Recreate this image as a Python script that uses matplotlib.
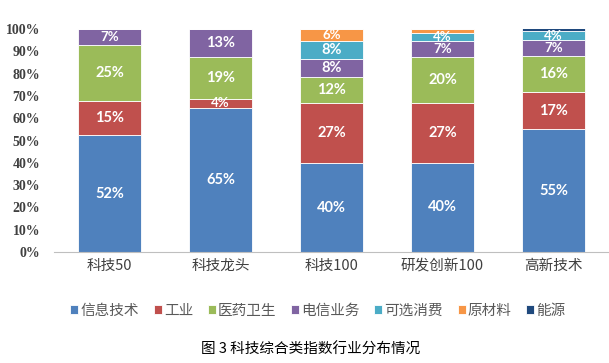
import matplotlib
matplotlib.use("Agg")
import matplotlib.pyplot as plt
import numpy as np

plt.rcParams['font.family'] = ['Noto Sans CJK SC', 'DejaVu Sans']

categories = ['科技50', '科技龙头', '科技100', '研发创新100', '高新技术']
series_names = ['信息技术', '工业', '医药卫生', '电信业务', '可选消费', '原材料', '能源']
info_tech = [52.4, 64.6, 39.9, 40.0, 55.0]
industry = [15.2, 4.0, 26.9, 27.0, 16.8]
health = [25.1, 18.8, 11.7, 20.4, 16.2]
telecom = [7.3, 12.6, 8.0, 7.0, 7.0]
consumer = [0.0, 0.0, 8.0, 4.0, 4.0]
materials = [0.0, 0.0, 5.5, 1.6, 0.0]
energy = [0.0, 0.0, 0.0, 0.0, 1.3]
yticks = [0, 10, 20, 30, 40, 50, 60, 70, 80, 90, 100]
title = '图 3 科技综合类指数行业分布情况'

colors = ['#4F81BD', '#C0504D', '#9BBB59', '#8064A2', '#4BACC6', '#F79646', '#1F497D']
series = [info_tech, industry, health, telecom, consumer, materials, energy]

fig = plt.figure(figsize=(6.09, 3.63), dpi=100)
ax = fig.add_axes([54/609, 1-252/363, 555/609, 223/363])
x = np.arange(len(categories))
bottom = np.zeros(len(categories))
handles = []
for name, vals, c in zip(series_names, series, colors):
    v = np.array(vals)
    b = ax.bar(x, v, 0.57, bottom=bottom, color=c, edgecolor='white', linewidth=0.6, label=name)
    handles.append(b)
    for xi, vi, bi in zip(x, v, bottom):
        if vi >= 3:
            fs = 10.5 if vi >= 7.5 else 9.5
            ax.text(xi, bi + vi/2, f'{round(vi):.0f}%', ha='center', va='center',
                    color='white', fontsize=fs, fontweight='bold', family=['Lato', 'DejaVu Sans'])
    bottom = bottom + v

ax.set_xlim(-0.5, len(categories) - 0.5)
ax.set_ylim(0, 100)
ax.set_yticks(yticks)
ax.set_yticklabels([f'{t}%' for t in yticks], family=['Liberation Serif'], fontweight='bold',
                   fontsize=10, color='#404040')
ax.set_xticks(x)
ax.set_xticklabels(categories, fontsize=10.5, color='#404040')
ax.tick_params(axis='both', length=0)
ax.tick_params(axis='y', pad=10)
ax.tick_params(axis='x', pad=5)
for s in ['top', 'right', 'left']:
    ax.spines[s].set_visible(False)
ax.spines['bottom'].set_color('#BFBFBF')
ax.spines['bottom'].set_linewidth(0.8)

leg = fig.legend(handles=handles, labels=series_names, loc='center', bbox_to_anchor=(318/609, 1-311/363),
                 ncol=7, frameon=False, fontsize=10.5, handlelength=0.55, handleheight=0.55,
                 handletextpad=0.15, columnspacing=1.0, labelcolor='#595959')
fig.text(0.51, 1-350/363, title, ha='center', va='center', fontsize=10.5, color='#000000')
fig.savefig('out.png', dpi=100)
